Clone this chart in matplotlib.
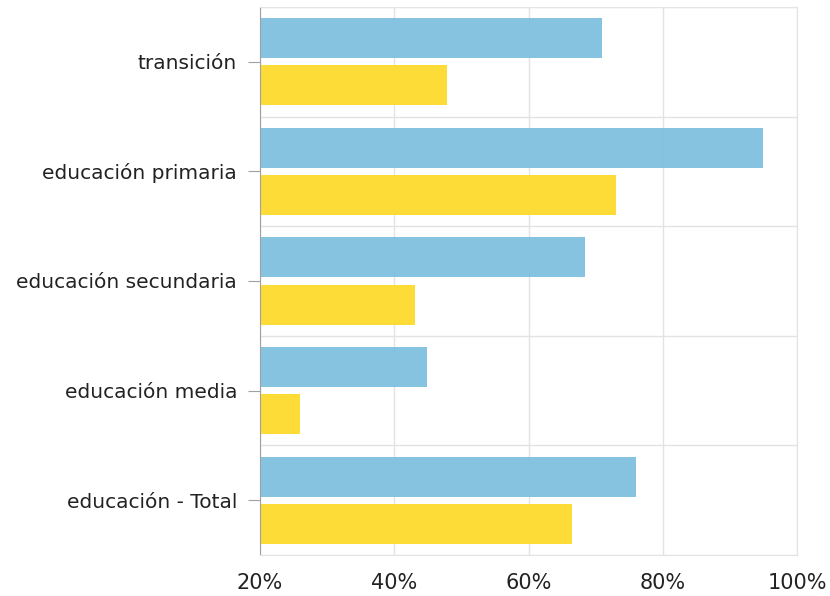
import numpy as np
import matplotlib
matplotlib.use("Agg")
import matplotlib.pyplot as plt
from matplotlib.ticker import FuncFormatter, MultipleLocator

categorias = ["transición", "educación primaria", "educación secundaria",
              "educación media", "educación - Total"]
serie_azul = [70.9, 94.9, 68.4, 44.9, 76.0]
serie_amarilla = [47.8, 73.1, 43.1, 26.0, 66.4]

azul = "#7fc0e0"
amarillo = "#fddb2c"
gris = "#e3e3e3"

fig = plt.figure(figsize=(8.3, 5.96), dpi=100)
ax = fig.add_axes([0.3133, 0.0688, 0.6470, 0.9195])

y = np.arange(len(categorias))
alto = 0.365
ax.barh(y - 0.215, serie_azul, height=alto, color=azul, alpha=0.95, zorder=2, left=0)
ax.barh(y + 0.215, serie_amarilla, height=alto, color=amarillo, alpha=0.95, zorder=2, left=0)

ax.set_xlim(20, 100)
ax.set_ylim(len(categorias) - 0.5, -0.5)
ax.xaxis.set_major_locator(MultipleLocator(20))
ax.xaxis.set_major_formatter(FuncFormatter(lambda v, p: f"{v:.0f}%"))
ax.set_yticks(y)
ax.set_yticklabels(categorias)
ax.set_yticks(np.arange(len(categorias) + 1) - 0.5, minor=True)

ax.grid(True, axis="x", which="major", color=gris, linewidth=1, zorder=1)
ax.grid(True, axis="y", which="minor", color=gris, linewidth=1, zorder=1)
ax.set_axisbelow(True)

for lado in ["top", "right", "bottom"]:
    ax.spines[lado].set_color(gris)
ax.spines["left"].set_color("#a0a0a0")

ax.tick_params(axis="y", which="major", length=9, color="#a0a0a0", pad=7.5,
               labelsize=14.5, labelcolor="#222222")
ax.tick_params(axis="y", which="minor", length=0)
ax.tick_params(axis="x", length=0, pad=13, labelsize=15, labelcolor="#222222")

fig.savefig("out.png", dpi=100)
